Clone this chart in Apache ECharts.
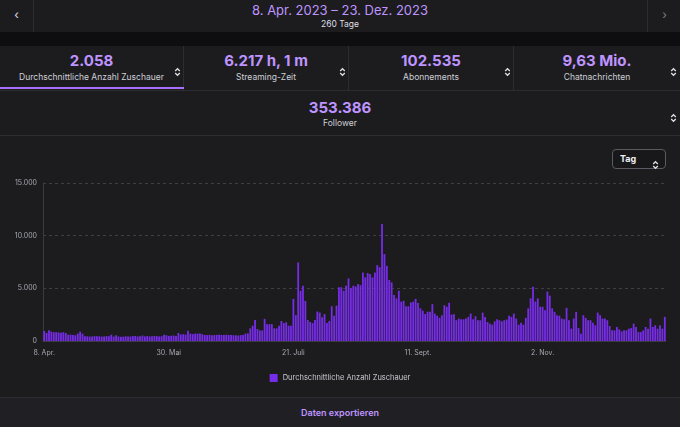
<!DOCTYPE html>
<html lang="de">
<head>
<meta charset="utf-8">
<title>Durchschnittliche Anzahl Zuschauer</title>
<script src="https://cdn.jsdelivr.net/npm/echarts@6/dist/echarts.min.js"></script>
<style>
    html, body {margin: 0; padding: 0; width: 680px; height: 427px; overflow: hidden; background: #1c1c1f;
        font-family: Inter, "Noto Sans", sans-serif; color: #efeff1;}
    .abs {position: absolute;}
    .hdr {left: 0; top: 0; width: 680px; height: 32px; background: #1c1c1f;}
    .nav {top: 0; height: 32px; width: 33px; text-align: center; line-height: 30px; font-size: 12px;}
    .nav.l {left: 0; border-right: 1px solid #2c2c31; color: #dedee3;}
    .nav.r {left: 647px; border-left: 1px solid #2c2c31; color: #7d7d86;}
    .title {left: 0; width: 680px; text-align: center; top: 2px; font-size: 13px; line-height: 16px; color: #bf94ff;}
    .sub {left: 0; width: 680px; text-align: center; top: 19px; font-size: 8.5px; line-height: 11px; color: #dedee3;}
    .band {left: 0; top: 32px; width: 680px; height: 14px; background: #0e0e10;}
    .cell {top: 46px; height: 44px; background: #1c1c1f; border-right: 1px solid #2c2c31; box-sizing: border-box; text-align: center;}
    .val {position: absolute; left: 0; right: 0; top: 6px; font-size: 15px; line-height: 18px; font-weight: 700; color: #bf94ff;}
    .lab {position: absolute; left: 0; right: 0; top: 26px; font-size: 8.5px; line-height: 11px; color: #cfcfd6;}
    .under {left: 0; top: 87px; width: 184px; height: 2px; background: #a970ff;}
    .frow {left: 0; top: 90px; width: 680px; height: 46px; border-top: 1px solid #2c2c31; border-bottom: 1px solid #2c2c31; box-sizing: border-box; text-align: center;}
    #chart {left: 0; top: 137px; width: 680px; height: 260px;}
    .tag {left: 612px; top: 149px; width: 54px; height: 20px; box-sizing: border-box; border: 1px solid #5a5a63; border-radius: 4px; background: #18181b;}
    .tag span {position: absolute; left: 7px; top: 3px; font-size: 9px; line-height: 12px; font-weight: 700; color: #efeff1;}
    .foot {left: 0; top: 397px; width: 680px; height: 30px; background: #202024; border-top: 1px solid #2c2c31; text-align: center;
        font-size: 9px; line-height: 29px; font-weight: 600; color: #bf94ff;}
</style>
</head>
<body>

<div class="abs hdr"></div>
<div class="abs nav l">&#8249;</div>
<div class="abs nav r">&#8250;</div>
<div class="abs title">8. Apr. 2023 – 23. Dez. 2023</div>
<div class="abs sub">260 Tage</div>
<div class="abs band"></div>

<div class="abs cell" style="left:0;width:184px;"><div class="val">2.058</div><div class="lab">Durchschnittliche Anzahl Zuschauer</div></div>
<div class="abs cell" style="left:184px;width:165px;"><div class="val">6.217 h, 1 m</div><div class="lab">Streaming-Zeit</div></div>
<div class="abs cell" style="left:349px;width:165px;"><div class="val">102.535</div><div class="lab">Abonnements</div></div>
<div class="abs cell" style="left:514px;width:166px;border-right:none;"><div class="val">9,63 Mio.</div><div class="lab">Chatnachrichten</div></div>
<div class="abs under"></div>

<div class="abs frow"><div class="val" style="top:8px;">353.386</div><div class="lab" style="top:27px;">Follower</div></div>

<div id="chart" class="abs"></div>
<div class="abs tag"><span>Tag</span></div>

<div class="abs foot">Daten exportieren</div>

<script>
// Zeitraum
var START = new Date(2023, 3, 8);
var DAYS = 260;
var MONTHS = ['Jan.', 'Feb.', 'März', 'Apr.', 'Mai', 'Juni', 'Juli', 'Aug.', 'Sept.', 'Okt.', 'Nov.', 'Dez.'];
var SERIES_NAME = 'Durchschnittliche Anzahl Zuschauer';
var Y_TICKS = [0, 5000, 10000, 15000];

// durchschnittliche Zuschauer pro Tag
var viewers = [
    950, 760, 1010, 890, 830, 830, 820, 790, 830, 760,
    600, 610, 570, 540, 700, 890, 700, 440, 450, 420,
    430, 460, 450, 440, 420, 430, 470, 450, 600, 420,
    550, 430, 400, 410, 450, 420, 430, 460, 480, 430,
    450, 520, 440, 470, 430, 450, 480, 460, 430, 450,
    600, 550, 480, 500, 520, 480, 760, 620, 640, 610,
    980, 700, 650, 700, 700, 720, 650, 570, 560, 590,
    550, 560, 580, 600, 570, 560, 590, 580, 560, 550,
    540, 520, 560, 580, 700, 720, 1200, 1450, 2000, 1140,
    1000, 1000, 2100, 1600, 1600, 1600, 1200, 1200, 1450, 1900,
    1700, 1770, 1450, 1450, 4000, 2460, 7460, 4770, 5250, 3800,
    2000, 1800, 1700, 2000, 2800, 2700, 2250, 2550, 1700, 1900,
    3300, 2400, 3350, 5100, 5100, 4770, 5250, 5940, 5000, 5250,
    5180, 5400, 5300, 6500, 6040, 6450, 6350, 6040, 6500, 7200,
    7000, 11100, 8250, 7140, 5800, 5560, 4360, 4050, 4770, 3730,
    3820, 3290, 3290, 3670, 3730, 4000, 3600, 3100, 2880, 2560,
    2780, 2780, 3500, 2600, 2400, 2200, 2450, 3400, 3250, 3630,
    2500, 2550, 1970, 2130, 2060, 2060, 2130, 2290, 2600, 2060,
    2350, 1970, 1970, 2700, 2290, 1800, 1650, 1550, 1870, 2060,
    1970, 1870, 1970, 2030, 2400, 2290, 2600, 2130, 1550, 1740,
    1550, 2200, 3100, 4050, 5140, 3740, 4050, 3250, 3250, 2930,
    4690, 4300, 3100, 2770, 2450, 2400, 2130, 2060, 3150, 1970,
    1170, 2130, 2770, 1230, 690, 2450, 2200, 1970, 1970, 1740,
    1490, 2700, 2450, 2130, 2130, 1970, 1420, 1010, 1010, 1330,
    1100, 910, 1010, 1010, 1170, 1230, 1650, 1330, 850, 850,
    1010, 1330, 1170, 2130, 1330, 1490, 1170, 1490, 1170, 2290
];

var days = [];
for (var i = 0; i < DAYS; i++) {
    var d = new Date(START.getFullYear(), START.getMonth(), START.getDate() + i);
    days.push(d.getDate() + '. ' + MONTHS[d.getMonth()]);
}

function dots(v) {
    return String(v).replace(/\B(?=(\d{3})+(?!\d))/g, '.');
}

// kleine Sortier-Pfeile
function sortIcon(x, y) {
    var el = document.createElement('div');
    el.className = 'abs';
    el.style.left = (x - 3) + 'px';
    el.style.top = (y - 5) + 'px';
    el.innerHTML = '<svg width="7" height="10" viewBox="0 0 7 10"><path d="M1.2 4 L3.5 1.7 L5.8 4 M1.2 6 L3.5 8.3 L5.8 6" ' +
        'fill="none" stroke="#dedee3" stroke-width="1.3"/></svg>';
    document.body.appendChild(el);
}
sortIcon(177, 66);
sortIcon(342, 66);
sortIcon(507, 66);
sortIcon(673, 66);
sortIcon(673, 112);
sortIcon(655, 159);

var myChart = echarts.init(document.getElementById('chart'));
var option = {
    animation: false,
    grid: {left: 43, right: 14, top: 46, bottom: 56},
    legend: {
        top: 232,
        left: 'center',
        icon: 'rect',
        itemWidth: 8,
        itemHeight: 8,
        itemGap: 6,
        textStyle: {color: '#c8c8d0', fontSize: 7.5, fontFamily: 'Inter'},
        data: [SERIES_NAME]
    },
    xAxis: {
        type: 'category',
        data: days,
        axisTick: {show: false},
        axisLine: {lineStyle: {color: '#3a3a40'}},
        axisLabel: {
            interval: function (index) {
                return index % 52 === 0;
            },
            color: '#a8a8b2',
            fontSize: 7,
            fontFamily: 'Inter',
            margin: 8
        }
    },
    yAxis: {
        type: 'value',
        min: Y_TICKS[0],
        max: Y_TICKS[Y_TICKS.length - 1],
        interval: Y_TICKS[1] - Y_TICKS[0],
        axisLine: {show: true, lineStyle: {color: '#3a3a40'}},
        axisTick: {show: false},
        splitLine: {lineStyle: {color: '#3e3e44', type: [3, 3]}},
        axisLabel: {
            formatter: dots,
            color: '#a8a8b2',
            fontSize: 7,
            fontFamily: 'Inter',
            margin: 6
        }
    },
    series: [
        {
            name: SERIES_NAME,
            type: 'bar',
            data: viewers,
            barCategoryGap: '25%',
            itemStyle: {color: '#772ce8'}
        }
    ]
};
myChart.setOption(option);
</script>
</body>
</html>
